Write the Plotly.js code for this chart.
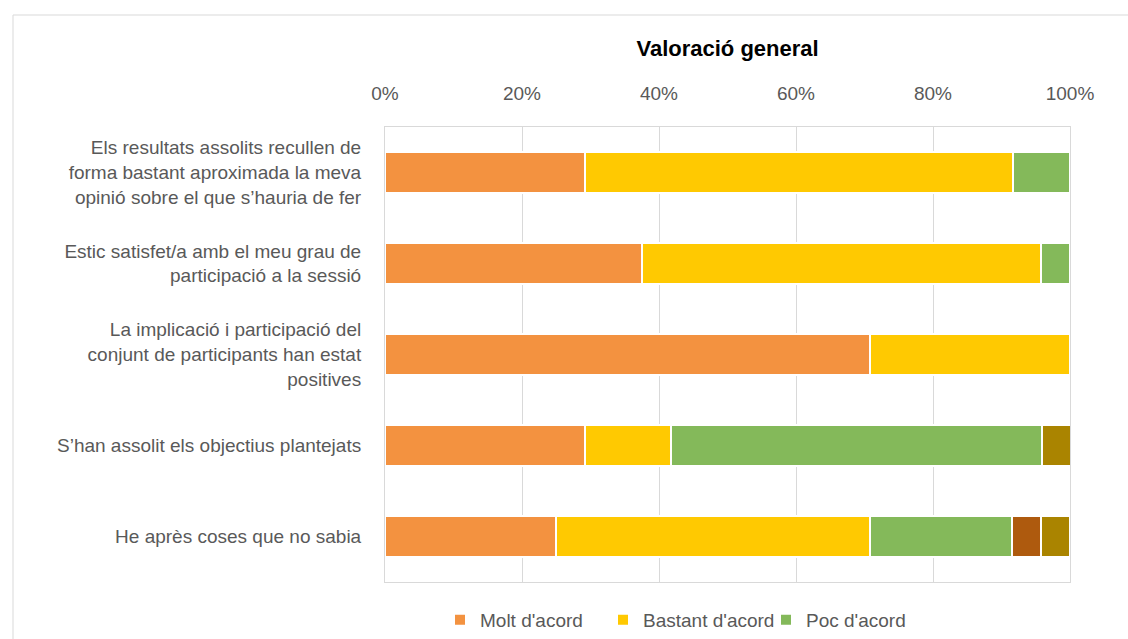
<!DOCTYPE html>
<html><head><meta charset="utf-8">
<script src="https://cdn.plot.ly/plotly-3.0.1.min.js"></script>
<style>html,body{margin:0;padding:0;background:#fff;}#chart{width:1128px;height:639px;}</style>
</head><body><div id="chart"></div>
<script>
var categories = [
  "Els resultats assolits recullen de<br>forma bastant aproximada la meva<br>opinió sobre el que s’hauria de fer",
  "Estic satisfet/a amb el meu grau de<br>participació a la sessió",
  "La implicació i participació del<br>conjunt de participants han estat<br>positives",
  "S’han assolit els objectius plantejats",
  "He après coses que no sabia"
];
var seriesNames = ["Molt d'acord", "Bastant d'acord", "Poc d'acord", "Gens d'acord", "NS/NC"];
var molt    = [29.2, 37.5, 70.8, 29.2, 25.0];
var bastant = [62.5, 58.3, 29.2, 12.5, 45.8];
var poc     = [8.3,  4.2,  0,    54.2, 20.8];
var gens    = [0,    0,    0,    0,    4.2];
var nsnc    = [0,    0,    0,    4.2,  4.2];
var tickVals = [0, 20, 40, 60, 80, 100];
var tickText = ["0%", "20%", "40%", "60%", "80%", "100%"];

var colors = ["#F39240", "#FFC901", "#84B95A", "#AE5A0E", "#AA8400"];
var allSeries = [molt, bastant, poc, gens, nsnc];
var showLeg = [true, true, true, false, false];
var data = allSeries.map(function(vals, i){
  return {
    type: 'bar', orientation: 'h', name: seriesNames[i],
    x: vals, y: categories,
    marker: {color: colors[i], line: {color: '#FFFFFF', width: 2}},
    showlegend: showLeg[i], hoverinfo: 'x+name'
  };
});

var layout = {
  width: 1128, height: 639,
  margin: {l: 385, r: 58, t: 127, b: 57},
  paper_bgcolor: '#FFFFFF', plot_bgcolor: '#FFFFFF',
  barmode: 'stack', bargap: 0.55,
  font: {family: 'Liberation Sans, Arial, sans-serif', color: '#595959', size: 19},
  title: {text: 'Valoració general', font: {family: 'Liberation Sans, Arial, sans-serif', size: 22, color: '#000000', weight: 'bold'}, x: 0.645, xanchor: 'center', y: 0.925, yanchor: 'middle'},
  xaxis: {side: 'top', range: [0, 100], tickvals: tickVals, ticktext: tickText,
    showgrid: true, gridcolor: '#D9D9D9', gridwidth: 1, zeroline: false,
    showline: true, linecolor: '#D9D9D9', mirror: true, ticks: '', ticklen: 0,
    ticklabelstandoff: 18, automargin: false,
    tickfont: {size: 19, color: '#595959'}, fixedrange: true},
  yaxis: {autorange: 'reversed', showline: true, linecolor: '#D9D9D9', mirror: true,
    ticks: '', tickfont: {size: 19, color: '#595959'}, ticklabelstandoff: 19,
    automargin: false, fixedrange: true},
  legend: {orientation: 'h', traceorder: 'normal', x: (440 - 385) / 685, xanchor: 'left',
    yref: 'container', y: 19 / 639, yanchor: 'middle',
    entrywidth: 118, entrywidthmode: 'pixels',
    font: {size: 19, color: '#595959'}, itemwidth: 30, itemsizing: 'constant'},
  shapes: [{type: 'rect', xref: 'paper', yref: 'paper',
    x0: (13 - 385) / 685, x1: 1.2, y0: -0.3, y1: 1 + (127 - 15) / 455,
    line: {color: '#D9D9D9', width: 1}, fillcolor: 'rgba(0,0,0,0)', layer: 'below'}]
};

Plotly.newPlot('chart', data, layout, {displayModeBar: false, staticPlot: true});
</script></body></html>
